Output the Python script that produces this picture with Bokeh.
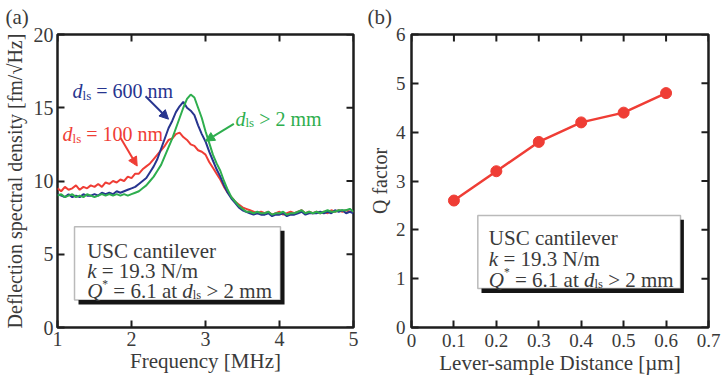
import numpy as np
from bokeh.plotting import figure
from bokeh.models import (Range1d, FixedTicker, Label, Arrow, NormalHead,
                          BoxAnnotation)
from bokeh.layouts import row
from bokeh.embed import file_html
from bokeh.resources import INLINE

# ---------------------------------------------------------------- data
# (a) thermal deflection spectra, sampled every 0.05 MHz from 1 to 5 MHz
freq_mhz = np.round(np.arange(1.0, 5.0001, 0.05), 2)

psd_100nm = [
    9.5, 9.3, 9.6, 9.4, 9.5, 9.7, 9.4, 9.6, 9.5, 9.7,
    9.6, 9.8, 9.6, 9.9, 9.8, 10.0, 9.9, 10.1, 10.0, 10.3,
    10.2, 10.5, 10.5, 10.8, 11.0, 11.2, 11.5, 11.8, 12.1, 12.4,
    12.8, 12.9, 13.2, 13.3, 13.0, 12.8, 12.5, 12.4, 12.1, 12.0,
    11.8, 11.3, 10.9, 10.5, 10.1, 9.6, 9.2, 8.9, 8.6, 8.4,
    8.2, 8.1, 8.0, 7.9, 7.8, 7.9, 7.8, 7.9, 7.7, 7.8,
    7.9, 7.7, 7.8, 7.9, 7.8, 7.9, 8.0, 7.8, 7.9, 7.8,
    7.9, 7.8, 7.9, 7.8, 8.0, 7.9, 8.0, 7.9, 8.0, 7.9,
    7.9,
]
psd_600nm = [
    9.1, 9.0, 8.9, 9.1, 8.9, 9.0, 8.9, 9.1, 9.0, 9.0,
    9.1, 9.0, 9.2, 9.1, 9.2, 9.1, 9.3, 9.2, 9.3, 9.4,
    9.5, 9.6, 9.8, 10.0, 10.2, 10.6, 11.0, 11.5, 12.2, 12.9,
    13.6, 14.1, 14.7, 15.1, 15.4, 15.0, 14.8, 14.5, 13.8, 13.2,
    12.7, 12.0, 11.4, 10.8, 10.3, 9.7, 9.2, 8.8, 8.5, 8.2,
    8.0, 7.9, 7.8, 7.7, 7.8, 7.7, 7.7, 7.8, 7.6, 7.7,
    7.7, 7.8, 7.6, 7.7, 7.7, 7.8, 7.9, 7.7, 7.8, 7.8,
    7.8, 7.9, 7.8, 7.9, 7.8, 8.0, 7.9, 8.0, 7.8, 7.9,
    7.8,
]
psd_2mm = [
    9.0, 9.1, 8.9, 9.0, 9.1, 8.9, 9.0, 8.9, 9.1, 9.0,
    8.9, 9.0, 9.1, 9.0, 9.1, 9.0, 9.1, 9.0, 9.1, 9.0,
    9.1, 9.2, 9.3, 9.5, 9.7, 10.0, 10.3, 10.7, 11.1, 11.7,
    12.3, 12.9, 13.6, 14.3, 15.0, 15.6, 15.9, 15.7, 15.0, 14.3,
    13.4, 12.6, 11.8, 11.2, 10.7, 10.0, 9.4, 8.9, 8.6, 8.3,
    8.1, 7.9, 7.9, 7.8, 7.9, 7.8, 7.8, 7.9, 7.7, 7.8,
    7.8, 7.9, 7.7, 7.8, 7.8, 7.9, 8.0, 7.8, 7.9, 7.8,
    7.9, 7.8, 7.9, 8.0, 7.9, 7.9, 8.0, 8.0, 8.0, 8.1,
    7.9,
]
freq_ticks = [1, 2, 3, 4, 5]
psd_ticks = [0, 5, 10, 15, 20]

# (b) quality factor versus lever-sample distance
distance_um = [0.1, 0.2, 0.3, 0.4, 0.5, 0.6]
q_factor = [2.6, 3.2, 3.8, 4.2, 4.4, 4.8]
dist_ticks = [0, 0.1, 0.2, 0.3, 0.4, 0.5, 0.6, 0.7]
dist_tick_labels = ["0", "0.1", "0.2", "0.3", "0.4", "0.5", "0.6", "0.7"]
q_ticks = [0, 1, 2, 3, 4, 5, 6]

# ---------------------------------------------------------------- style
FONT = "Liberation Serif"
INK = "#3a3a3a"
FRAME = "#1e1e1e"
RED = "#ef3d35"
BLUE = "#27358f"
GREEN = "#2eae4e"
TICK_PX = 7
FRAME_W, FRAME_H = 296, 295   # inner plotting area in pixels

# Times-metric advance widths (per em) used to chain text pieces
ROMAN_W = {" ": .25, "=": .564, ">": .564, ".": .25, "/": .278, "*": .5,
           "a": .444, "c": .444, "e": .444, "i": .278, "l": .278, "m": .778,
           "n": .5, "r": .333, "s": .389, "t": .278, "v": .5, "N": .722,
           "U": .722, "S": .556, "C": .667}
ITALIC_W = {"Q": .722, "k": .444, "d": .5}


def text_width(s, size, italic=False):
    table = ITALIC_W if italic else ROMAN_W
    return sum(table.get(ch, .5) for ch in s) * size


def rich_label(p, x, y, parts, color, base):
    """Lay out (text, scale, italic, dy) pieces one after another."""
    dx = 0.0
    for txt, scale, italic, dy in parts:
        size = base * scale
        lead = len(txt) - len(txt.lstrip(" "))
        trail = len(txt) - len(txt.rstrip(" "))
        core = txt.strip(" ")
        dx += lead * 0.25 * size
        p.add_layout(Label(x=x, y=y, x_offset=dx, y_offset=dy, text=core,
                           text_font=FONT, text_font_size=f"{size:.1f}px",
                           text_font_style="italic" if italic else "normal",
                           text_color=color, text_baseline="alphabetic"))
        dx += text_width(core, size, italic) + trail * 0.25 * size


def style_axis(ax, ticks, font_size, label_size, overrides=None):
    ax.ticker = FixedTicker(ticks=ticks)
    ax.axis_line_color = None
    ax.major_tick_in = TICK_PX
    ax.major_tick_out = 0
    ax.major_tick_line_color = FRAME
    ax.major_tick_line_width = 2
    ax.minor_tick_line_color = None
    ax.major_label_text_font = FONT
    ax.major_label_text_font_size = font_size
    ax.major_label_text_color = INK
    ax.axis_label_text_font = FONT
    ax.axis_label_text_font_size = label_size
    ax.axis_label_text_font_style = "normal"
    ax.axis_label_text_color = INK
    if overrides:
        ax.major_label_overrides = overrides


def mirror_ticks(p, xticks, yticks, xr, yr):
    """Inward ticks along the top and right edges of the frame."""
    dy = (yr[1] - yr[0]) * TICK_PX / FRAME_H
    dx = (xr[1] - xr[0]) * TICK_PX / FRAME_W
    p.segment(x0=xticks, y0=[yr[1]] * len(xticks),
              x1=xticks, y1=[yr[1] - dy] * len(xticks),
              line_color=FRAME, line_width=2)
    p.segment(x0=[xr[1]] * len(yticks), y0=yticks,
              x1=[xr[1] - dx] * len(yticks), y1=yticks,
              line_color=FRAME, line_width=2)


def make_frame(tag, xr, yr, left, right, tag_offset):
    p = figure(width=364, height=378, x_range=Range1d(*xr),
               y_range=Range1d(*yr), output_backend="svg",
               toolbar_location=None, title=tag,
               min_border_left=left, min_border_right=right,
               min_border_top=32, min_border_bottom=51)
    p.grid.visible = False
    p.outline_line_color = FRAME
    p.outline_line_width = 2.5
    p.background_fill_color = "white"
    p.border_fill_color = "white"
    p.title.text_font = FONT
    p.title.text_font_size = "21px"
    p.title.text_font_style = "normal"
    p.title.text_color = INK
    p.title.align = "left"
    p.title.vertical_align = "top"
    p.title.offset = tag_offset
    p.title.standoff = 8
    return p


def text_box(p, left, right, top, bottom, sh_left, sh_right, sh_top, sh_bottom):
    p.add_layout(BoxAnnotation(left=sh_left, right=sh_right, top=sh_top,
                               bottom=sh_bottom, fill_color="#151515",
                               fill_alpha=1.0, line_color=None))
    p.add_layout(BoxAnnotation(left=left, right=right, top=top, bottom=bottom,
                               fill_color="white", fill_alpha=1.0,
                               line_color="#1a1a1a", line_width=1.5))


def box_lines(p, x, ys, size):
    rich_label(p, x, ys[0], [("USC cantilever", 1, False, 0)], INK, size)
    rich_label(p, x, ys[1], [("k", 1, True, 0), (" = 19.3 N/m", 1, False, 0)],
               INK, size)
    rich_label(p, x, ys[2], [("Q", 1, True, 0), ("*", 0.55, False, 7),
                             (" = 6.1 at ", 1, False, 0), ("d", 1, True, 0),
                             ("ls", 0.6, False, -4), (" > 2 mm", 1, False, 0)],
               INK, size)


# ---------------------------------------------------------------- panel (a)
a_xr, a_yr = (1, 5), (0, 20)
pa = make_frame("(a)", a_xr, a_yr, left=57, right=11, tag_offset=-52)
pa.line(freq_mhz, psd_100nm, line_color=RED, line_width=2)
pa.line(freq_mhz, psd_600nm, line_color=BLUE, line_width=2)
pa.line(freq_mhz, psd_2mm, line_color=GREEN, line_width=2)

style_axis(pa.xaxis[0], freq_ticks, "20px", "21px")
style_axis(pa.yaxis[0], psd_ticks, "20px", "20px")
pa.xaxis[0].axis_label = "Frequency [MHz]"
pa.yaxis[0].axis_label = "Deflection spectral density [fm/\u221aHz]"
pa.xaxis[0].major_label_standoff = 4
pa.xaxis[0].axis_label_standoff = 0
pa.yaxis[0].major_label_standoff = 4
pa.yaxis[0].axis_label_standoff = 5
mirror_ticks(pa, freq_ticks, psd_ticks, a_xr, a_yr)

rich_label(pa, 1.203, 16.12, [("d", 1, True, 0), ("ls", 0.65, False, -4),
                              (" = 600 nm", 1, False, 0)], BLUE, 20)
rich_label(pa, 1.068, 13.2, [("d", 1, True, 0), ("ls", 0.65, False, -4),
                             (" = 100 nm", 1, False, 0)], RED, 20)
rich_label(pa, 3.405, 14.25, [("d", 1, True, 0), ("ls", 0.65, False, -4),
                              (" > 2 mm", 1, False, 0)], GREEN, 20)

for (xs, ys, xe, ye, c) in [(2.189, 15.78, 2.50, 14.22, BLUE),
                            (1.851, 12.95, 2.077, 11.02, RED),
                            (3.383, 13.90, 3.00, 12.72, GREEN)]:
    pa.add_layout(Arrow(x_start=xs, y_start=ys, x_end=xe, y_end=ye,
                        line_color=c, line_width=2,
                        end=NormalHead(size=9, fill_color=c, line_color=c)))

text_box(pa, 1.23, 4.013, 6.87, 1.88, 1.284, 4.068, 6.60, 1.565)
box_lines(pa, 1.401, [5.21, 3.85, 2.47], 21)

# ---------------------------------------------------------------- panel (b)
b_xr, b_yr = (0, 0.7), (0, 6)
pb = make_frame("(b)", b_xr, b_yr, left=47, right=20, tag_offset=-44)
pb.line(distance_um, q_factor, line_color=RED, line_width=2.5)
pb.scatter(distance_um, q_factor, size=11, fill_color=RED, line_color=RED)

style_axis(pb.xaxis[0], dist_ticks, "19px", "21px",
           overrides={t: s for t, s in zip(dist_ticks, dist_tick_labels)})
style_axis(pb.yaxis[0], q_ticks, "19px", "20px")
pb.xaxis[0].axis_label = "Lever-sample Distance [\u00b5m]"
pb.yaxis[0].axis_label = "Q factor"
pb.xaxis[0].major_label_standoff = 6
pb.xaxis[0].axis_label_standoff = 1
pb.yaxis[0].major_label_standoff = 6
pb.yaxis[0].axis_label_standoff = 2
mirror_ticks(pb, dist_ticks, q_ticks, b_xr, b_yr)

text_box(pb, 0.1563, 0.634, 2.292, 0.799, 0.165, 0.642, 2.207, 0.706)
box_lines(pb, 0.1822, [1.836, 1.397, 0.976], 21)

layout = row(pa, pb)
open("out.html", "w").write(file_html(layout, INLINE))
